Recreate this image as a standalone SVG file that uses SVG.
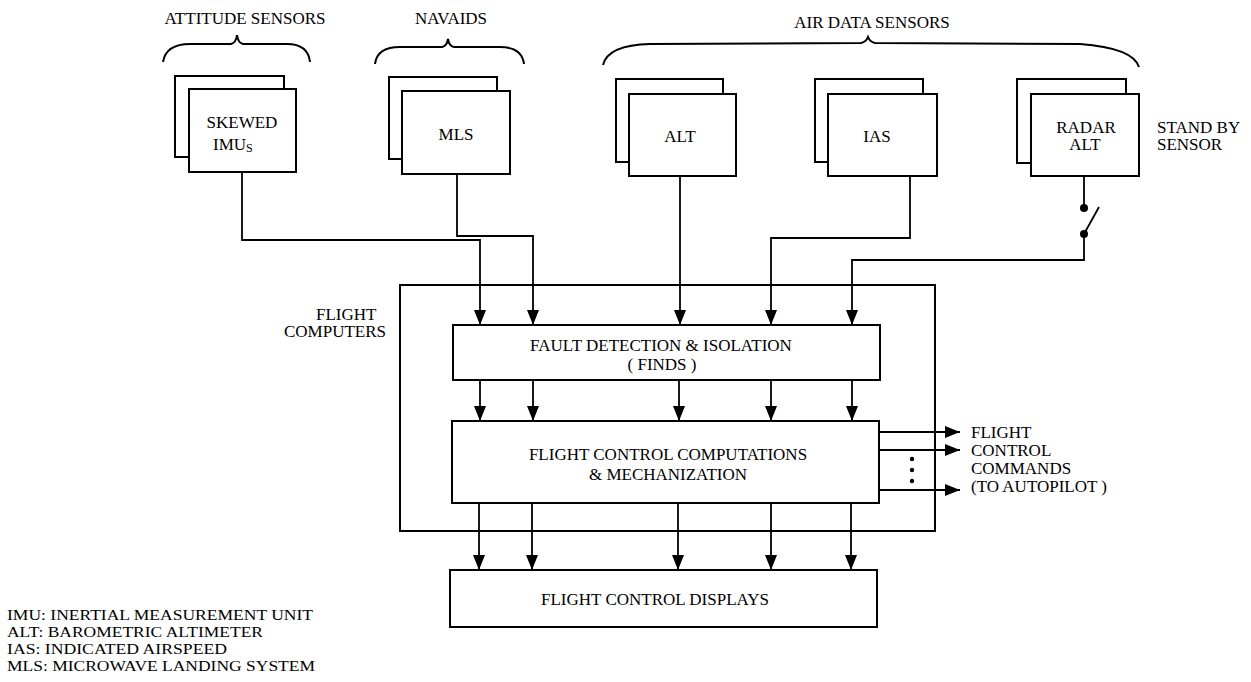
<svg xmlns="http://www.w3.org/2000/svg" width="1251" height="682" viewBox="0 0 1251 682">
<style>
  text { font-family: "Liberation Serif", "Times New Roman", serif; font-size: 17px; fill: #000; }
  .c { text-anchor: middle; }
  .leg { font-size: 15.3px; }
  .box { fill: #fff; stroke: #000; stroke-width: 2; }
  .line { fill: none; stroke: #000; stroke-width: 1.8; }
  .brace { fill: none; stroke: #000; stroke-width: 2; }
</style>
<defs>
  <marker id="ah" markerUnits="userSpaceOnUse" markerWidth="16" markerHeight="12" refX="15" refY="6" orient="auto">
    <path d="M0,0 L15,6 L0,12 Z" fill="#000"/>
  </marker>
</defs>
<rect width="1251" height="682" fill="#fff"/>

<!-- group labels and braces -->
<g id="attitude-sensors">
  <text class="c" x="245" y="24">ATTITUDE SENSORS</text>
  <path class="brace" d="M163,62 Q166,44 190,44 L231,44 Q236,43 237,35 Q238,43 243,44 L287,44 Q308,44 310,62"/>
</g>
<g id="navaids">
  <text class="c" x="451" y="24">NAVAIDS</text>
  <path class="brace" d="M375,64 Q377,47 400,47 L442,47 Q447,46 448,39 Q449,46 454,47 L500,47 Q522,47 524,64"/>
</g>
<g id="air-data-sensors">
  <text class="c" x="872" y="28">AIR DATA SENSORS</text>
  <path class="brace" d="M603,65 Q608,45 650,44 L861,43 Q866,42 868,37 Q870,42 875,43 L1080,44 Q1133,48 1139,67"/>
</g>

<!-- sensors -->
<g id="imu">
  <rect class="box" x="175" y="76" width="109" height="81"/>
  <rect class="box" x="189" y="89" width="107" height="83"/>
  <text class="c" x="242" y="128">SKEWED</text>
  <text x="213" y="150">IMU<tspan font-size="12" dy="2">S</tspan></text>
</g>
<g id="mls">
  <rect class="box" x="389" y="77" width="108" height="82"/>
  <rect class="box" x="402" y="91" width="108" height="83"/>
  <text class="c" x="456" y="140">MLS</text>
</g>
<g id="alt">
  <rect class="box" x="616" y="79" width="107" height="83"/>
  <rect class="box" x="629" y="94" width="107" height="82"/>
  <text class="c" x="680" y="142">ALT</text>
</g>
<g id="ias">
  <rect class="box" x="815" y="79" width="108" height="83"/>
  <rect class="box" x="828" y="94" width="109" height="82"/>
  <text class="c" x="877" y="142">IAS</text>
</g>
<g id="radar-alt">
  <rect class="box" x="1017" y="79" width="109" height="84"/>
  <rect class="box" x="1031" y="94" width="108" height="82"/>
  <text class="c" x="1086" y="133">RADAR</text>
  <text class="c" x="1085" y="150">ALT</text>
</g>
<g id="standby-label">
  <text x="1157" y="133">STAND BY</text>
  <text x="1157" y="150">SENSOR</text>
</g>

<!-- flight computers -->
<g id="flight-computers">
  <rect x="400" y="285" width="535" height="246" fill="none" stroke="#000" stroke-width="2"/>
  <text x="316" y="320" font-size="15.5">FLIGHT</text>
  <text x="386" y="337" font-size="15.5" text-anchor="end">COMPUTERS</text>
</g>
<g id="finds">
  <rect class="box" x="453" y="325" width="427" height="55"/>
  <text class="c" x="661" y="351">FAULT DETECTION &amp; ISOLATION</text>
  <text class="c" x="662" y="370">( FINDS )</text>
</g>
<g id="fcc">
  <rect class="box" x="452" y="421" width="427" height="82"/>
  <text class="c" x="668" y="460">FLIGHT CONTROL COMPUTATIONS</text>
  <text class="c" x="668" y="480">&amp; MECHANIZATION</text>
</g>
<g id="displays">
  <rect class="box" x="450" y="570" width="427" height="57"/>
  <text class="c" x="655" y="605">FLIGHT CONTROL DISPLAYS</text>
</g>
<g id="commands-label">
  <text x="971" y="438">FLIGHT</text>
  <text x="971" y="456">CONTROL</text>
  <text x="971" y="474">COMMANDS</text>
  <text x="971" y="492">(TO AUTOPILOT )</text>
</g>

<!-- connectors -->
<g id="connectors">
  <path class="line" d="M242,172 V240 H480 V325" marker-end="url(#ah)"/>
  <path class="line" d="M457,174 V236 H533 V325" marker-end="url(#ah)"/>
  <path class="line" d="M680,176 V325" marker-end="url(#ah)"/>
  <path class="line" d="M910,176 V238 H771 V325" marker-end="url(#ah)"/>
  <path class="line" d="M1084,176 V208"/>
  <path class="line" d="M1084,234 V260 H852 V325" marker-end="url(#ah)"/>
  <path class="line" d="M1084,234 L1099,207"/>
  <circle cx="1084" cy="208" r="4" fill="#000"/>
  <circle cx="1084" cy="234" r="4" fill="#000"/>

  <path class="line" d="M480,380 V421" marker-end="url(#ah)"/>
  <path class="line" d="M533,380 V421" marker-end="url(#ah)"/>
  <path class="line" d="M679,380 V421" marker-end="url(#ah)"/>
  <path class="line" d="M771,380 V421" marker-end="url(#ah)"/>
  <path class="line" d="M852,380 V421" marker-end="url(#ah)"/>

  <path class="line" d="M479,503 V570" marker-end="url(#ah)"/>
  <path class="line" d="M532,503 V570" marker-end="url(#ah)"/>
  <path class="line" d="M678,503 V570" marker-end="url(#ah)"/>
  <path class="line" d="M771,503 V570" marker-end="url(#ah)"/>
  <path class="line" d="M851,503 V570" marker-end="url(#ah)"/>

  <path class="line" d="M879,432 H960" marker-end="url(#ah)"/>
  <path class="line" d="M879,450 H960" marker-end="url(#ah)"/>
  <path class="line" d="M879,490 H960" marker-end="url(#ah)"/>
  <circle cx="912" cy="459" r="2.2" fill="#000"/>
  <circle cx="912" cy="470" r="2.2" fill="#000"/>
  <circle cx="912" cy="481" r="2.2" fill="#000"/>
</g>

<!-- legend -->
<g id="legend">
  <text class="leg" x="7" y="619.5" textLength="306" lengthAdjust="spacingAndGlyphs">IMU: INERTIAL MEASUREMENT UNIT</text>
  <text class="leg" x="7" y="636.5" textLength="256" lengthAdjust="spacingAndGlyphs">ALT: BAROMETRIC ALTIMETER</text>
  <text class="leg" x="7" y="653.5" textLength="220" lengthAdjust="spacingAndGlyphs">IAS: INDICATED AIRSPEED</text>
  <text class="leg" x="7" y="670.5" textLength="308" lengthAdjust="spacingAndGlyphs">MLS: MICROWAVE LANDING SYSTEM</text>
</g>
</svg>
